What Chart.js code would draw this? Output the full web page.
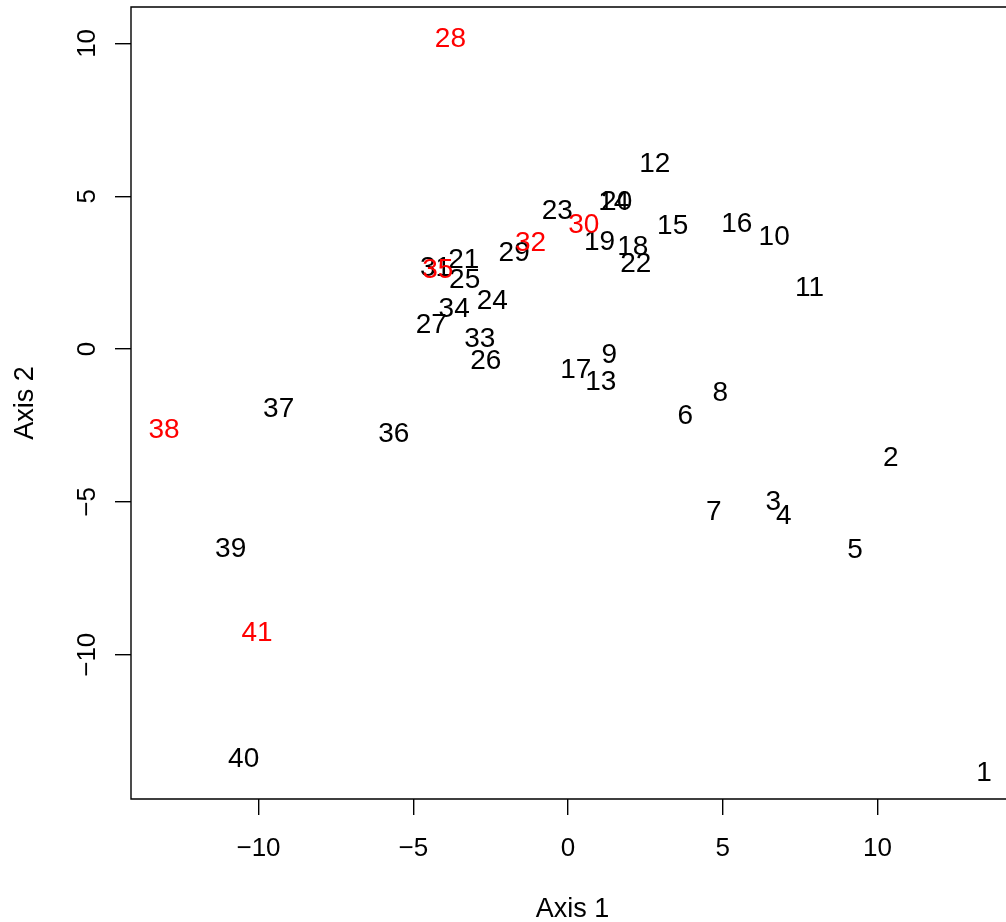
<!DOCTYPE html>
<html>
<head>
<meta charset="utf-8">
<title>Ordination plot</title>
<script src="https://cdn.jsdelivr.net/npm/chart.js@4.4.1/dist/chart.umd.min.js"></script>
<style>
  body { margin: 0; background: #fff; overflow: hidden; }
  #wrap { width: 1006px; height: 922px; }
</style>
</head>
<body>
<div id="wrap"><canvas id="ordChart" width="1006" height="922"></canvas></div>
<script>
// site scores
const siteLabels = ['1','2','3','4','5','6','7','8','9','10','11','12','13','14','15','16','17','18','19','20',
                    '21','22','23','24','25','26','27','28','29','30','31','32','33','34','35','36','37','38','39','40','41'];
const axis1Scores = [13.44, 10.43, 6.63, 6.97, 9.27, 3.79, 4.71, 4.92, 1.33, 6.66,
                     7.80, 2.80, 1.06, 1.48, 3.38, 5.45, 0.25, 2.09, 1.02, 1.57,
                     -3.37, 2.19, -0.35, -2.45, -3.34, -2.66, -4.42, -3.80, -1.74, 0.51,
                     -4.28, -1.21, -2.85, -3.68, -4.21, -5.63, -9.35, -13.05, -10.90, -10.48, -10.05];
const axis2Scores = [-13.79, -3.50, -4.93, -5.39, -6.50, -2.12, -5.26, -1.37, -0.13, 3.74,
                     2.06, 6.11, -1.01, 4.87, 4.10, 4.15, -0.62, 3.40, 3.56, 4.87,
                     2.99, 2.84, 4.59, 1.63, 2.34, -0.34, 0.85, 10.21, 3.22, 4.13,
                     2.71, 3.53, 0.39, 1.37, 2.65, -2.70, -1.91, -2.57, -6.47, -13.35, -9.23];
const redSites = ['28', '30', '32', '35', '38', '41'];

const xTicks = [-10, -5, 0, 5, 10];
const yTicks = [-10, -5, 0, 5, 10];

const FONT = '"Liberation Sans", Arial, Helvetica, sans-serif';

function fmt(v) {
    return v < 0 ? '\u2212' + Math.abs(v) : String(v);
}

// draws the R-style box, tick labels, axis titles and the site labels
const rPlotPlugin = {
    id: 'rPlot',
    afterDraw(chart) {
        const ctx = chart.ctx;
        const area = chart.chartArea;
        const xs = chart.scales.x;
        const ys = chart.scales.y;
        ctx.save();

        // box (right side runs off the page)
        ctx.strokeStyle = '#000';
        ctx.lineWidth = 1.4;
        ctx.beginPath();
        ctx.moveTo(area.right + 20, area.top);
        ctx.lineTo(area.left, area.top);
        ctx.lineTo(area.left, area.bottom);
        ctx.lineTo(area.right + 20, area.bottom);
        ctx.stroke();

        ctx.fillStyle = '#000';
        ctx.font = '26px ' + FONT;
        ctx.textAlign = 'center';
        ctx.textBaseline = 'alphabetic';
        const capT = 26 * 0.716 / 2;

        xs.ticks.forEach(t => {
            ctx.fillText(fmt(t.value), xs.getPixelForValue(t.value), 847 + capT);
        });
        ys.ticks.forEach(t => {
            ctx.save();
            ctx.translate(86, ys.getPixelForValue(t.value));
            ctx.rotate(-Math.PI / 2);
            ctx.fillText(fmt(t.value), 0, capT);
            ctx.restore();
        });

        // axis titles
        ctx.font = '27px ' + FONT;
        const capA = 27 * 0.716 / 2;
        ctx.fillText('Axis 1', (area.left + area.right) / 2 + 4, 907 + capA);
        ctx.save();
        ctx.translate(23, (area.top + area.bottom) / 2);
        ctx.rotate(-Math.PI / 2);
        ctx.fillText('Axis 2', 0, capA);
        ctx.restore();

        // site labels at the scores
        ctx.font = '28px ' + FONT;
        const capL = 28 * 0.716 / 2;
        const meta = chart.getDatasetMeta(0);
        meta.data.forEach((pt, i) => {
            const lab = siteLabels[i];
            ctx.fillStyle = redSites.includes(lab) ? '#ff0000' : '#000000';
            ctx.fillText(lab, pt.x, pt.y + capL);
        });
        ctx.restore();
    }
};

const ordChart = new Chart(document.getElementById('ordChart'), {
    type: 'scatter',
    data: {
        datasets: [{
            data: axis1Scores.map((v, i) => ({ x: v, y: axis2Scores[i] })),
            pointRadius: 0,
            pointHoverRadius: 0,
            showLine: false
        }]
    },
    options: {
        responsive: false,
        animation: false,
        events: [],
        layout: { padding: { top: 7, right: 0, left: 0, bottom: 0 } },
        plugins: {
            legend: { display: false },
            tooltip: { enabled: false }
        },
        scales: {
            x: {
                type: 'linear',
                min: -14.12,
                max: 14.15,
                afterBuildTicks: axis => { axis.ticks = xTicks.map(v => ({ value: v })); },
                afterFit: axis => { axis.height = 123; },
                ticks: { display: false },
                border: { display: false },
                grid: { drawOnChartArea: false, drawTicks: true, tickLength: 16, color: '#000', lineWidth: 1.4 }
            },
            y: {
                type: 'linear',
                min: -14.72,
                max: 11.19,
                afterBuildTicks: axis => { axis.ticks = yTicks.map(v => ({ value: v })); },
                afterFit: axis => { axis.width = 131; },
                ticks: { display: false },
                border: { display: false },
                grid: { drawOnChartArea: false, drawTicks: true, tickLength: 16, color: '#000', lineWidth: 1.4 }
            }
        }
    },
    plugins: [rPlotPlugin]
});
</script>
</body>
</html>
